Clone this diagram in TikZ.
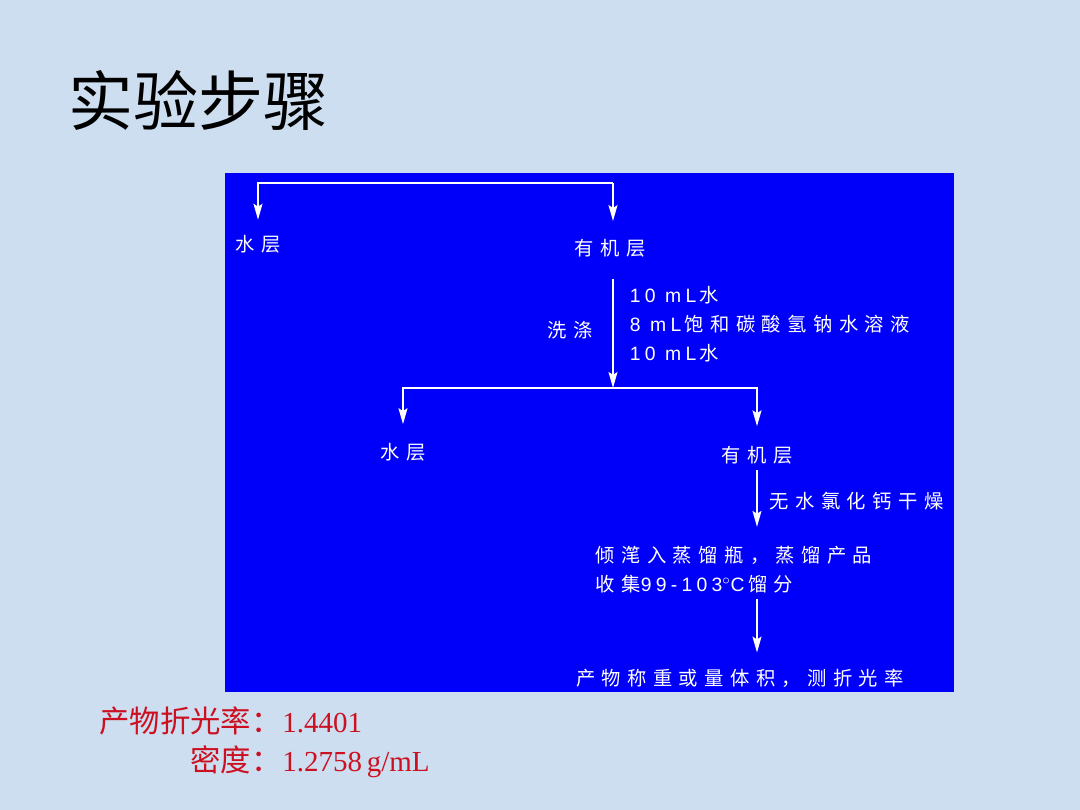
\documentclass[tikz,border=0pt]{standalone}
\usepackage{fontspec}
\setmainfont{Noto Sans CJK SC}
\newfontfamily\panelfont[LetterSpace=33]{Noto Sans CJK SC}
\newfontfamily\panellatin[LetterSpace=22]{Liberation Sans}
\newfontfamily\numfont{Liberation Serif}
\usetikzlibrary{positioning,arrows.meta}

\newcommand{\latinpart}[1]{{\panellatin #1}\hspace{2pt}}

\definecolor{slidebg}{RGB}{204,222,240}
\definecolor{panelblue}{RGB}{0,0,250}
\definecolor{notered}{RGB}{204,16,32}

\begin{document}
\begin{tikzpicture}[x=0.02cm, y=-0.02cm,
    layer/.style={text=white, font=\panelfont\fontsize{11}{16.5}\selectfont, inner sep=2pt},
    flow/.style={draw=white, line width=1.3pt, -{Stealth[length=9pt,width=5pt,inset=1.5pt]}},
    note/.style={text=notered, font=\fontsize{17.3}{20}\selectfont, inner sep=0pt}
    ]
        %Background
        \fill[slidebg] (0,0) rectangle (1080,810);
        \fill[panelblue] (225,173) rectangle (954,692);
        \node[font=\fontsize{37}{40}\selectfont, anchor=west, inner sep=0pt]
            (title) at (68,100) {实验步骤};

        %Nodes
        \node[layer] (aq1)  at (258,244) {水层};
        \node[layer] (org1) at (610,248) {有机层};
        \node[layer] (wash) at (570,330) {洗涤};
        \node[layer, align=left, anchor=west]
            (reag) at (626,324) {\latinpart{10 mL}水\\\latinpart{8 mL}饱和碳酸氢钠水溶液\\\latinpart{10 mL}水};
        \node[layer] (aq2)  at (403,452) {水层};
        \node[layer] (org2) at (757,455) {有机层};
        \node[layer, anchor=west] (dry) at (766,501) {无水氯化钙干燥};
        \node[layer, align=left, anchor=west]
            (dist) at (592,570) {倾滗入蒸馏瓶，蒸馏产品\\收集\latinpart{99-103$^{\circ}$C}馏分};
        \node[layer] (prod) at (740,678) {产物称重或量体积，测折光率};

        \coordinate (fork1) at (613,183);
        \coordinate (fork2) at (613,388);

        %Lines
        \draw[flow, shorten >=6.5pt] (fork1) -| (aq1);
        \draw[flow, shorten >=8pt] (fork1) -- (fork1 |- org1.north);
        \draw[flow, shorten <=10.5pt] (org1.south -| fork2) -- (fork2);
        \draw[flow, shorten >=8.5pt] (fork2) -| (aq2);
        \draw[flow, shorten >=9pt] (fork2) -| (org2);
        \draw[flow, shorten <=1.5pt, shorten >=9pt] (org2) -- (org2 |- dist.north);
        \draw[flow, shorten <=1pt, shorten >=7pt] (org2 |- dist.south) -- (org2 |- prod.north);

        %Results
        \node[note, anchor=base east] (ri) at (282,733) {产物折光率：};
        \node[note, anchor=base west, font=\numfont\fontsize{16.5}{20}\selectfont]
            (riv) at (ri.base east) {1.4401};
        \node[note, anchor=base east] (rho) at (282,772) {密度：};
        \node[note, anchor=base west, font=\numfont\fontsize{16.5}{20}\selectfont]
            (rhov) at (rho.base east) {1.2758\,g/mL};
    \end{tikzpicture}
\end{document}
